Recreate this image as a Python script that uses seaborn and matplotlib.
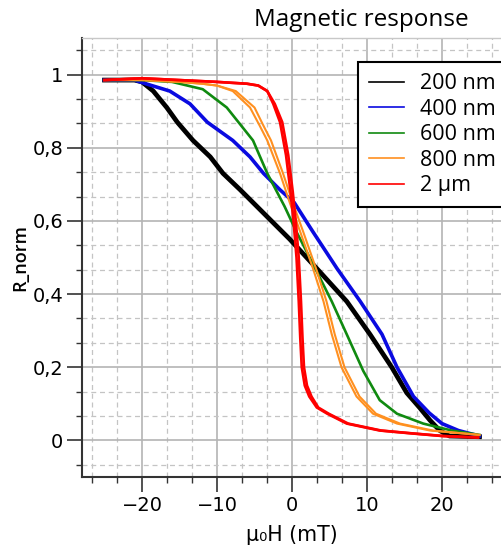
# Magnetic response of the stripes: normalized resistance vs field

import numpy as np
import pandas as pd
import matplotlib
matplotlib.use('Agg')
import matplotlib.pyplot as plt
from matplotlib.ticker import MultipleLocator, FixedLocator
from matplotlib.lines import Line2D
import seaborn as sns

# values (field in mT, R_norm)
field_200 = [-25, -21, -20, -18.5, -16.7, -15.3, -13.2, -10.9, -9.2, -6.9, -4.7, -2.5,
             -0.3, 1.5, 3.3, 7.3, 10.4, 13.3, 15.3, 17.0, 18.4, 19.7, 21.0, 25]
r_200 = [0.985, 0.985, 0.98, 0.955, 0.91, 0.87, 0.82, 0.775, 0.73, 0.685, 0.64, 0.595,
         0.55, 0.51, 0.47, 0.38, 0.29, 0.2, 0.13, 0.09, 0.055, 0.027, 0.012, 0.01]

field_400 = [-25, -21, -19.5, -16.3, -13.6, -11.3, -7.9, -5.6, -3.8, -1.6, 0.3, 2.8,
             6.0, 9.1, 12.0, 14.0, 16.2, 18.3, 20.0, 22.2, 25]
r_400 = [0.985, 0.985, 0.975, 0.955, 0.92, 0.87, 0.82, 0.775, 0.73, 0.685, 0.65, 0.57,
         0.47, 0.38, 0.29, 0.2, 0.12, 0.075, 0.046, 0.027, 0.012]

field_600 = [-25, -20, -16, -11.9, -8.7, -5.2, -3.3, -1.0, 0.6, 3.1, 5.3, 7.3, 9.5,
             11.7, 14.0, 17.5, 21.3, 25]
r_600 = [0.985, 0.985, 0.98, 0.96, 0.91, 0.82, 0.73, 0.64, 0.57, 0.47, 0.38, 0.29, 0.19,
         0.11, 0.073, 0.046, 0.027, 0.015]

field_800_a = [-25, -20, -15, -12, -10, -7.9, -5.6, -4.3, -3.3, -1.6, -0.3, 1.1, 2.8,
               4.2, 5.3, 6.6, 8.6, 10.8, 14.0, 18.4, 25]
r_800_a = [0.985, 0.985, 0.98, 0.975, 0.97, 0.955, 0.91, 0.86, 0.82, 0.73, 0.65, 0.57,
           0.47, 0.38, 0.29, 0.2, 0.12, 0.073, 0.046, 0.027, 0.015]
field_800_b = [-25, -20, -15, -12, -10, -7.5, -5.0, -3.8, -2.8, -1.2, 0.1, 1.5, 3.2,
               4.6, 5.7, 7.0, 9.0, 11.2, 14.4, 18.8, 25]
r_800_b = [0.985, 0.985, 0.98, 0.975, 0.97, 0.955, 0.91, 0.86, 0.82, 0.73, 0.65, 0.57,
           0.47, 0.38, 0.29, 0.2, 0.12, 0.073, 0.046, 0.027, 0.015]

field_2um_a = [-25, -20, -15, -10, -6, -4.5, -3.3, -2.5, -1.6, -0.8, -0.2, 0.2, 0.6,
               0.9, 1.1, 1.3, 1.7, 2.3, 3.3, 4.7, 7.3, 11.7, 16.0, 20.0, 24.8]
r_2um_a = [0.985, 0.99, 0.985, 0.98, 0.975, 0.97, 0.955, 0.92, 0.87, 0.78, 0.68, 0.6,
           0.5, 0.38, 0.28, 0.2, 0.15, 0.12, 0.09, 0.073, 0.046, 0.027, 0.019, 0.012, 0.008]
field_2um_b = [-25, -20, -15, -10, -6, -4.5, -3.3, -2.3, -1.3, -0.5, 0.1, 0.5, 0.9,
               1.2, 1.4, 1.6, 2.0, 2.6, 3.5, 4.9, 7.5, 11.9, 16.2, 20.2, 24.8]
r_2um_b = r_2um_a

labels = ['200 nm', '400 nm', '600 nm', '800 nm', '2 µm']
colors = ['#000000', '#0a0ae0', '#108a10', '#ff9020', '#ff0000']
widths = [3.4, 2.6, 1.9, 1.5, 1.9]

curves = [
    ('200 nm', 'a', field_200, r_200),
    ('400 nm', 'a', field_400, r_400),
    ('600 nm', 'a', field_600, r_600),
    ('800 nm', 'a', field_800_a, r_800_a),
    ('800 nm', 'b', field_800_b, r_800_b),
    ('2 µm', 'a', field_2um_a, r_2um_a),
    ('2 µm', 'b', field_2um_b, r_2um_b),
]

fig = plt.figure(figsize=(5.02, 5.48), dpi=100)
ax = fig.add_axes([82 / 502, 71 / 548, 427.5 / 502, 439 / 548])

for lab, col, lw in zip(labels, colors, widths):
    rows = []
    for name, sweep, f, r in curves:
        if name == lab:
            rows.append(pd.DataFrame({'field': f, 'R': r, 'sweep': sweep}))
    df = pd.concat(rows)
    sns.lineplot(data=df, x='field', y='R', units='sweep', estimator=None,
                 color=col, lw=lw, ax=ax, legend=False, sort=False)

ax.set_xlim(-28, 29)
ax.set_ylim(-0.1, 1.1)

# axis ticks
ax.xaxis.set_major_locator(MultipleLocator(10))
ax.xaxis.set_minor_locator(MultipleLocator(10 / 3))
yticks = [0, 0.2, 0.4, 0.6, 0.8, 1.0]
ytick_labels = ['0', '0,2', '0,4', '0,6', '0,8', '1']
ax.yaxis.set_major_locator(FixedLocator(yticks))
ax.set_yticklabels(ytick_labels)
ax.yaxis.set_minor_locator(MultipleLocator(0.2 / 3))

ax.tick_params(which='major', direction='out', length=10.5, width=1.2, color='#333333',
               labelsize=14, pad=3)
ax.tick_params(which='minor', direction='out', length=4.5, width=1.0, color='#333333')

ax.grid(which='major', color='#b4b4b4', lw=1.2, ls='-')
ax.grid(which='minor', color='#c4c4c4', lw=0.9, ls=(0, (4, 3)))
ax.set_axisbelow(True)

for side in ['left', 'bottom']:
    ax.spines[side].set_color('#333333')
    ax.spines[side].set_linewidth(1.5)
ax.spines['top'].set_color('#c8c8c8')
ax.spines['top'].set_linewidth(1.0)
ax.spines['right'].set_visible(False)

ax.set_xlabel('μ₀H (mT)', fontsize=14.8, va='center')
ax.xaxis.set_label_coords(0.491, -0.132)
ax.set_ylabel('R_norm', fontsize=13, family='Open Sans', fontweight='semibold', va='center')
ax.yaxis.set_label_coords(-0.145, 0.499)

fig.text(361 / 502, 1 - 20 / 548, 'Magnetic response', ha='center', va='center',
         fontsize=17.5, family='Open Sans')

handles = [Line2D([], [], color=c, lw=1.2) for c in colors]
leg = ax.legend(handles, labels, loc='upper left', bbox_to_anchor=(358 / 502, 1 - 62 / 548),
                bbox_transform=fig.transFigure, borderaxespad=0, fancybox=False,
                framealpha=1, edgecolor='black', prop={'family': 'Open Sans', 'size': 15.5},
                handlelength=1.6, handletextpad=0.78, labelspacing=0.21, borderpad=0.52)
leg.get_frame().set_linewidth(1.5)

fig.savefig('out.png', dpi=100)
